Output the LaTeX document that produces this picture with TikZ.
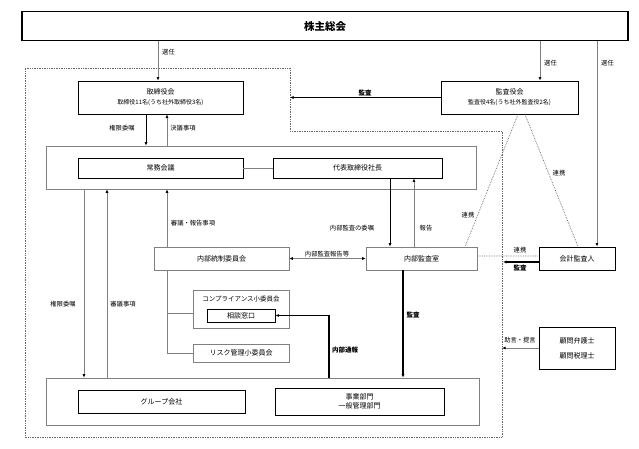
\documentclass[tikz,border=0pt]{standalone}
\usepackage{fontspec}
\setmainfont{Noto Sans CJK JP}
\usetikzlibrary{arrows.meta}

\tikzset{
  box/.style={draw,line width=0.9pt,inner sep=0pt,align=center,font=\fontsize{7}{9}\selectfont},
  gbox/.style={draw=gray,line width=0.6pt,inner sep=0pt,align=center,font=\fontsize{7}{9}\selectfont},
  lbl/.style={inner sep=1pt,font=\fontsize{6.3}{7}\selectfont},
  blbl/.style={inner sep=1pt,font=\fontsize{6.5}{7}\selectfont\bfseries},
  gline/.style={draw=gray,line width=0.7pt,>={Latex[length=3.5pt,width=3pt,color=black]}},
  bline/.style={draw,line width=0.7pt},
  hline/.style={draw,line width=1.5pt},
  dline/.style={draw=gray!80!black,densely dotted,line width=0.7pt}
}

\begin{document}
\begin{tikzpicture}[x=1pt,y=-1pt,->,>={Latex[length=3.5pt,width=3pt]}]
\useasboundingbox (0,0) rectangle (639,449);

\draw[-,dline] (25,68) -- (290,68) -- (290,131) -- (502,131) -- (502,437) -- (25,437) -- cycle;

\node[box,line width=1.2pt,minimum width=606pt,minimum height=29pt,font=\fontsize{10.5}{12}\selectfont\bfseries] (kabu) at (325,26) {株主総会};

\node[box,minimum width=165pt,minimum height=33pt] (tori) at (160.5,97.5) {取締役会\\[1pt]{\fontsize{6}{7}\selectfont 取締役11名(うち社外取締役3名)}};
\node[box,minimum width=137pt,minimum height=33pt] (kansa) at (509.5,97.5) {監査役会\\[1pt]{\fontsize{6}{7}\selectfont 監査役4名(うち社外監査役2名)}};

\node[gbox,minimum width=430pt,minimum height=43pt] (exec) at (261,167.5) {};
\node[box,minimum width=165pt,minimum height=20pt] (jomu) at (160.5,168) {常務会議};
\node[box,minimum width=169pt,minimum height=20pt] (daihyo) at (357.5,168) {代表取締役社長};

\node[gbox,minimum width=135pt,minimum height=23pt] (tosei) at (221.5,258.5) {内部統制委員会};
\node[gbox,minimum width=111pt,minimum height=23pt] (naibu) at (421.5,258.5) {内部監査室};
\node[box,minimum width=76pt,minimum height=23pt] (kaikei) at (577,258.5) {会計監査人};

\node[gbox,minimum width=96pt,minimum height=38pt] (compl) at (241,309) {};
\node[lbl,font=\fontsize{6.5}{7}\selectfont] (compltitle) at (241,299) {コンプライアンス小委員会};
\node[box,minimum width=68pt,minimum height=13pt] (sodan) at (241,315.5) {相談窓口};
\node[gbox,minimum width=96pt,minimum height=18pt] (risk) at (241,353) {リスク管理小委員会};

\node[box,minimum width=76pt,minimum height=42pt] (komon) at (577,348) {顧問弁護士\\[6pt]顧問税理士};

\node[gbox,minimum width=433pt,minimum height=47pt] (group) at (262.5,401.5) {};
\node[box,minimum width=167pt,minimum height=23pt] (grp) at (161.5,401.5) {グループ会社};
\node[box,minimum width=169pt,minimum height=27pt] (jigyo) at (359.5,401.5) {事業部門\\一般管理部門};

\draw[gline] (158,0 |- kabu.south) -- (158,0 |- tori.north);
\draw[gline] (540,0 |- kabu.south) -- (540,0 |- kansa.north);
\draw[gline] (597,0 |- kabu.south) -- (597,0 |- kaikei.north);
\draw[gline] (167,0 |- exec.north) -- (167,0 |- tori.south);
\draw[gline] (167,0 |- tosei.north) -- (167,0 |- exec.south);
\draw[gline] (414,0 |- naibu.north) -- (414,0 |- daihyo.south);
\draw[gline] (84,0 |- exec.south) -- (84,0 |- group.north);
\draw[gline] (107,0 |- group.north) -- (107,0 |- exec.south);
\draw[gline] (komon.west) -- (502,0 |- komon.west);
\draw[gline,<->] (tosei.east) -- (naibu.west);

\path[gline,-]
  (jomu.east) -- (daihyo.west)
  (167,0 |- tosei.south) -- (167,353) -- (compl.west |- 0,353)
  (167,313) -- (compl.west |- 0,313)
;

\draw[bline] (146,0 |- tori.south) -- (146,0 |- exec.north);
\draw[bline] (390,0 |- daihyo.south) -- (390,0 |- naibu.north);

\draw[hline] (kansa.west) -- (290,0 |- kansa.west);
\draw[hline] (kaikei.west |- 0,262) -- (503,262);
\draw[hline] (403,0 |- naibu.south) -- (403,0 |- group.north);
\draw[hline] (329,0 |- group.north) -- (329,315.5) -- (sodan.east);

\path[dline,-]
  (naibu.east |- 0,256) -- (kaikei.west |- 0,256)
  (518,0 |- kansa.south) -- (465,0 |- naibu.north)
  (525,0 |- kansa.south) -- (578,0 |- kaikei.north)
;

\node[lbl,anchor=west] (l1) at (161,52) {選任};
\node[lbl,anchor=west] (l2) at (543,63) {選任};
\node[lbl,anchor=west] (l3) at (600,63) {選任};
\node[lbl] (l4) at (122,128) {権限委嘱};
\node[lbl] (l5) at (183,128) {決議事項};
\node[blbl] (l6) at (365,93) {監査};
\node[lbl] (l7) at (559,173) {連携};
\node[lbl] (l8) at (468,215) {連携};
\node[lbl] (l9) at (193,223) {審議・報告事項};
\node[lbl] (l10) at (352,228) {内部監査の委嘱};
\node[lbl] (l11) at (426,228) {報告};
\node[lbl] (l12) at (327,254) {内部監査報告等};
\node[lbl] (l13) at (520,250) {連携};
\node[blbl] (l14) at (520,268) {監査};
\node[lbl] (l15) at (63,304) {権限委嘱};
\node[lbl] (l16) at (123,304) {審議事項};
\node[blbl] (l17) at (413,315) {監査};
\node[blbl] (l18) at (345,350) {内部通報};
\node[lbl] (l19) at (520,340) {助言・提言};

\end{tikzpicture}
\end{document}
